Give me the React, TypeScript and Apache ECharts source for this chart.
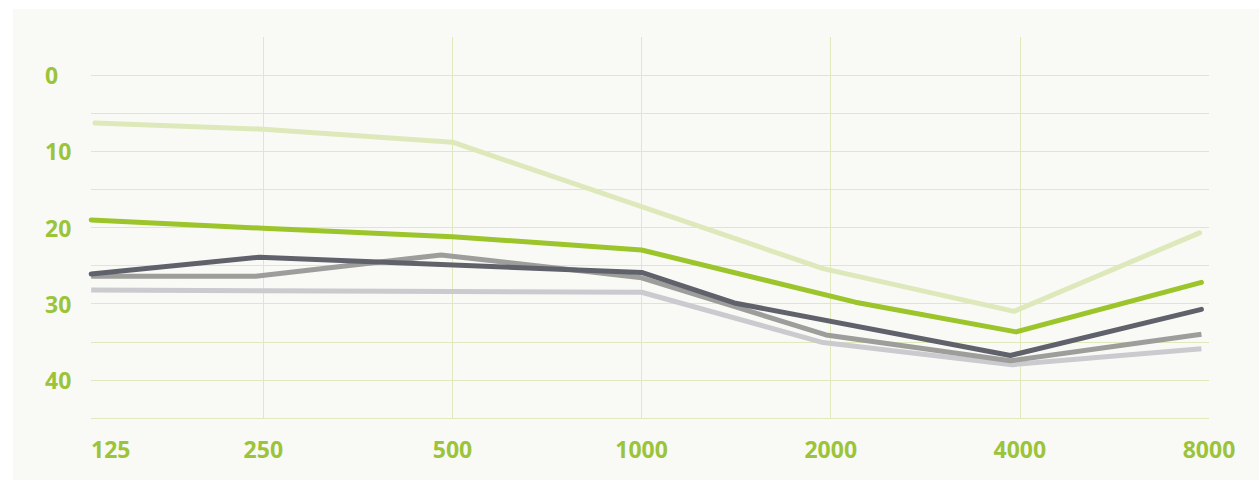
import React, { useEffect, useRef } from "react";
import * as echarts from "echarts";

// Frequencies (Hz) shown on the x axis, one per octave position 0..6
const frequencies = ["125", "250", "500", "1000", "2000", "4000", "8000"];
// y tick labels (dB, inverted axis)
const yLabels = [0, 10, 20, 30, 40];

// Series values as [octave position, dB]
const lightGreenSeries: [number, number][] = [
  [0.11, 6.3], [1.0, 7.1], [2.0, 8.8], [3.96, 25.4], [4.97, 31.0], [5.95, 20.7],
];
const greenSeries: [number, number][] = [
  [0.09, 19.0], [1.0, 20.1], [2.0, 21.2], [3.0, 22.95], [4.13, 29.8], [4.98, 33.7], [5.96, 27.2],
];
const darkGreySeries: [number, number][] = [
  [0.09, 26.1], [0.98, 23.9], [3.0, 25.9], [3.49, 29.9], [4.95, 36.8], [5.96, 30.75],
];
const greySeries: [number, number][] = [
  [0.09, 26.4], [0.96, 26.4], [1.94, 23.6], [3.0, 26.6], [3.975, 34.1], [4.95, 37.5], [5.96, 34.0],
];
const lightGreySeries: [number, number][] = [
  [0.09, 28.2], [1.0, 28.3], [2.0, 28.4], [3.0, 28.5], [3.96, 35.1], [4.96, 38.0], [5.96, 35.9],
];

const GRID = "#dfe9bd";
const LABEL = "#9bc43a";

export default function App() {
  const ref = useRef<HTMLDivElement>(null);
  useEffect(() => {
    document.body.style.margin = "0";
    const chart = echarts.init(ref.current!, null, { renderer: "svg" });
    const xMin = 0.089;
    const mk = (name: string, data: [number, number][], color: string, cap: string, z: number) => ({
      name,
      type: "line",
      data,
      symbol: "none",
      z,
      lineStyle: { color, width: 5, cap, join: "round" },
      emphasis: { disabled: true },
    });
    chart.setOption({
      animation: false,
      backgroundColor: "#ffffff",
      graphic: [
        {
          type: "rect",
          z: -100,
          silent: true,
          shape: { x: 13, y: 9, width: 1246, height: 471 },
          style: { fill: "#f9faf5" },
        },
      ],
      grid: { left: 91, right: 50, top: 37, bottom: 62, containLabel: false },
      xAxis: {
        type: "value",
        min: xMin,
        max: frequencies.length - 1,
        axisLine: { show: false },
        axisTick: { show: false, customValues: [1, 2, 3, 4, 5] },
        splitLine: { show: true, lineStyle: { color: GRID, width: 1 } },
        axisLabel: {
          customValues: [xMin, 1, 2, 3, 4, 5, 6],
          formatter: (v: number) => frequencies[Math.round(v)],
          alignMinLabel: "left",
          color: LABEL,
          fontFamily: "Open Sans",
          fontWeight: "bold",
          fontSize: 23,
          margin: 19,
        },
      },
      yAxis: {
        type: "value",
        inverse: true,
        min: -5,
        max: 45,
        interval: 5,
        axisLine: { show: false },
        axisTick: { show: false },
        splitLine: { show: true, showMinLine: false, lineStyle: { color: GRID, width: 1 } },
        axisLabel: {
          formatter: (v: number) => (yLabels.indexOf(v) >= 0 ? String(v) : ""),
          color: LABEL,
          fontFamily: "Open Sans",
          fontWeight: "bold",
          fontSize: 23,
          align: "left",
          margin: 46,
          padding: [7, 0, 0, 0],
        },
      },
      series: [
        mk("lightGrey", lightGreySeries, "#cacacf", "butt", 2),
        mk("grey", greySeries, "#9d9d9b", "butt", 3),
        mk("darkGrey", darkGreySeries, "#5f626b", "round", 4),
        mk("green", greenSeries, "#9cc42b", "round", 5),
        mk("lightGreen", lightGreenSeries, "#dde9bb", "round", 6),
      ],
    });
    return () => chart.dispose();
  }, []);
  return <div ref={ref} style={{ width: 1259, height: 480 }} />;
}
